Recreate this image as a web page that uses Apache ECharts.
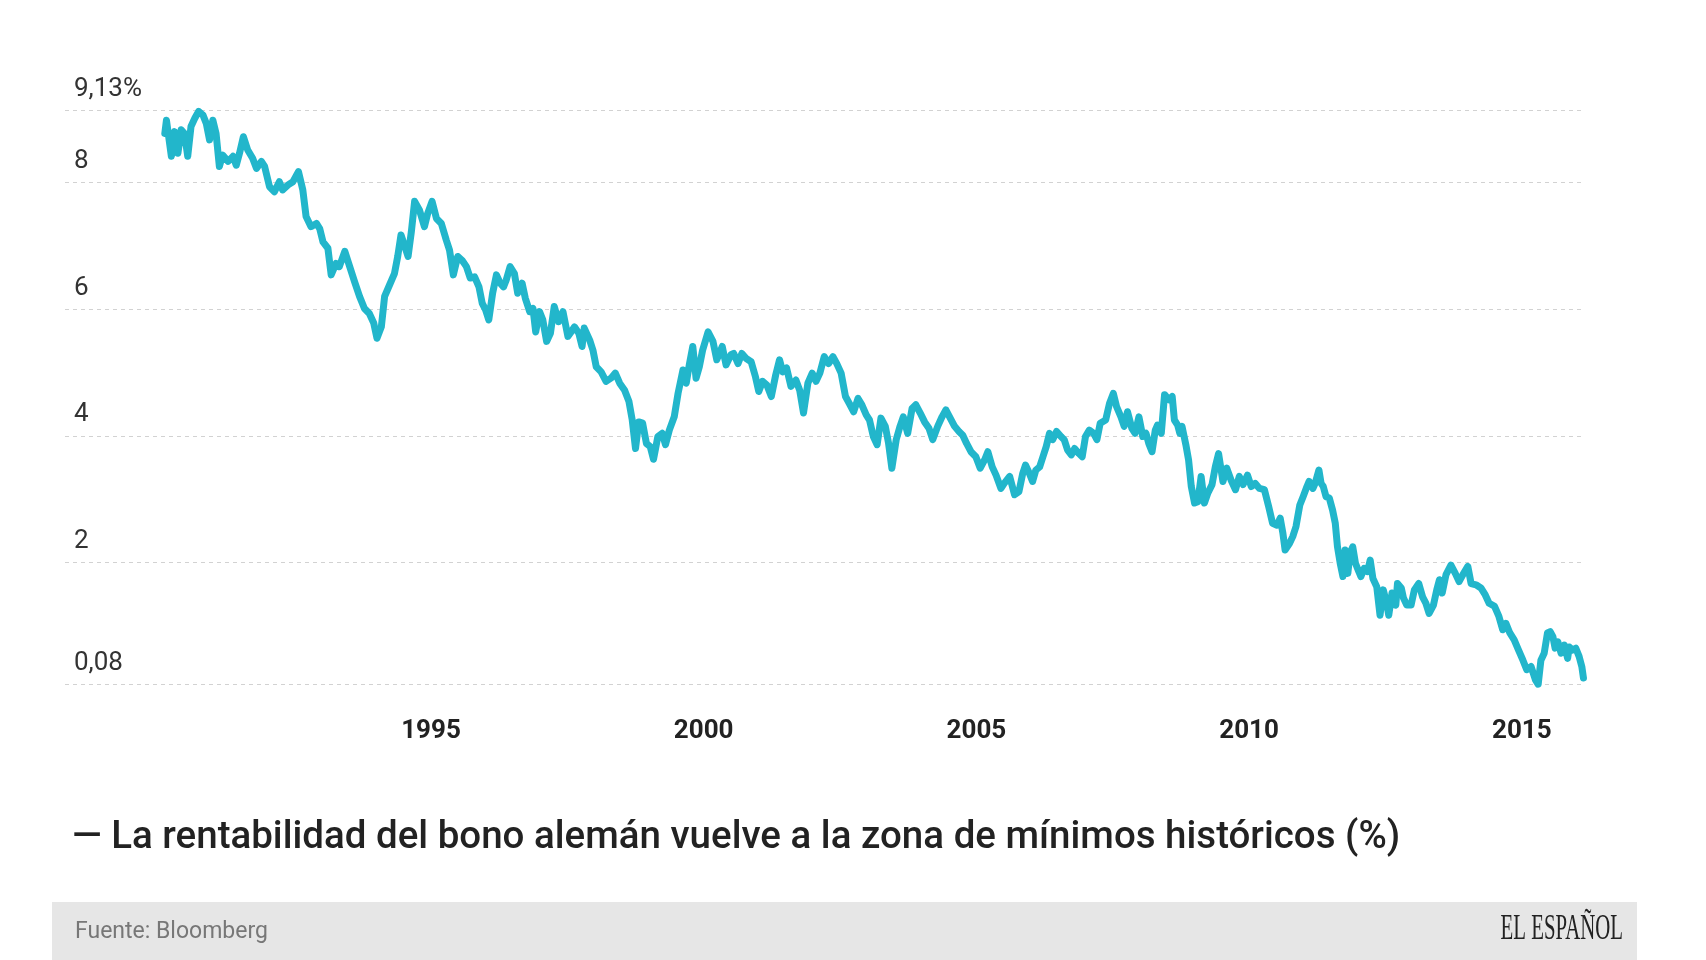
<!DOCTYPE html>
<html>
<head>
<meta charset="utf-8">
<script src="https://cdn.jsdelivr.net/npm/echarts@6/dist/echarts.min.js"></script>
<style>
html,body{margin:0;padding:0;background:#fff;}
#chart{width:1706px;height:960px;}
</style>
</head>
<body>
<div id="chart"></div>
<script>
// Decimal years of each observation
var years = [
1990.12,1990.15,1990.24,1990.30,1990.36,1990.42,1990.48,1990.54,1990.60,1990.67,1990.74,1990.82,1990.88,1990.94,
1991.00,1991.06,1991.12,1991.18,1991.28,1991.37,1991.43,1991.49,1991.56,1991.64,1991.73,1991.80,1991.89,1991.95,
1992.04,1992.13,1992.22,1992.28,1992.38,1992.47,1992.57,1992.65,1992.71,1992.80,1992.90,1992.96,
1993.02,1993.11,1993.17,1993.26,1993.32,1993.42,1993.51,1993.60,1993.69,1993.78,1993.87,1993.95,
1994.01,1994.09,1994.15,1994.24,1994.33,1994.39,1994.45,1994.52,1994.58,1994.64,1994.70,1994.79,1994.88,1994.94,
1995.02,1995.10,1995.19,1995.28,1995.34,1995.41,1995.49,1995.57,1995.65,1995.72,1995.80,1995.88,1995.94,
1996.00,1996.06,1996.13,1996.20,1996.27,1996.33,1996.38,1996.45,1996.53,1996.59,1996.67,1996.73,1996.81,1996.87,1996.92,1996.99,
1997.05,1997.12,1997.19,1997.26,1997.34,1997.42,1997.51,1997.57,1997.63,1997.71,1997.77,1997.81,1997.91,1997.97,
1998.03,1998.12,1998.21,1998.30,1998.38,1998.46,1998.55,1998.63,1998.69,1998.75,1998.81,1998.88,1998.95,
1999.02,1999.08,1999.16,1999.24,1999.30,1999.37,1999.46,1999.53,1999.62,1999.68,1999.74,1999.80,1999.86,1999.92,1999.98,
2000.08,2000.17,2000.24,2000.34,2000.41,2000.50,2000.55,2000.63,2000.70,2000.78,2000.87,2000.95,
2001.01,2001.08,2001.16,2001.24,2001.32,2001.39,2001.45,2001.52,2001.60,2001.69,2001.76,2001.83,2001.91,2001.99,
2002.06,2002.13,2002.21,2002.29,2002.37,2002.44,2002.52,2002.60,2002.67,2002.75,2002.83,2002.90,2002.98,
2003.04,2003.11,2003.18,2003.25,2003.33,2003.39,2003.45,2003.53,2003.60,2003.66,2003.74,2003.82,2003.89,2003.97,
2004.05,2004.13,2004.20,2004.29,2004.37,2004.44,2004.52,2004.60,2004.68,2004.75,2004.82,2004.90,2004.99,
2005.07,2005.15,2005.21,2005.29,2005.36,2005.45,2005.51,2005.61,2005.70,2005.78,2005.85,2005.90,2005.97,
2006.03,2006.09,2006.16,2006.22,2006.28,2006.34,2006.40,2006.47,2006.55,2006.61,2006.67,2006.74,2006.80,2006.88,2006.94,
2007.00,2007.07,2007.15,2007.21,2007.27,2007.37,2007.44,2007.51,2007.57,2007.65,2007.71,2007.77,2007.85,2007.91,2007.98,
2008.05,2008.11,2008.16,2008.22,2008.28,2008.32,2008.39,2008.45,2008.53,2008.59,2008.63,2008.69,2008.73,2008.77,2008.84,2008.89,2008.94,
2009.00,2009.06,2009.12,2009.18,2009.24,2009.32,2009.38,2009.44,2009.52,2009.59,2009.67,2009.75,2009.82,2009.89,2009.97,
2010.04,2010.11,2010.19,2010.28,2010.36,2010.43,2010.51,2010.57,2010.62,2010.66,2010.74,2010.80,2010.86,2010.93,2010.99,
2011.06,2011.10,2011.17,2011.21,2011.28,2011.32,2011.36,2011.41,2011.47,2011.53,2011.58,2011.62,2011.67,2011.72,2011.76,2011.81,2011.85,2011.90,2011.95,
2012.01,2012.05,2012.11,2012.17,2012.22,2012.27,2012.34,2012.40,2012.46,2012.52,2012.56,2012.62,2012.69,2012.72,2012.79,2012.83,2012.89,2012.97,
2013.03,2013.11,2013.18,2013.24,2013.30,2013.38,2013.44,2013.49,2013.54,2013.61,2013.70,2013.78,2013.85,2013.92,
2014.01,2014.07,2014.16,2014.25,2014.33,2014.40,2014.50,2014.58,2014.65,2014.71,2014.78,2014.86,2014.94,
2015.02,2015.09,2015.17,2015.25,2015.30,2015.35,2015.41,2015.47,2015.52,2015.57,2015.61,2015.66,2015.72,2015.78,2015.84,2015.87,2015.93,2015.99,
2016.05,2016.10,2016.13
];
// 10-year German bond yield (%)
var yields = [
8.77,8.98,8.41,8.80,8.46,8.83,8.77,8.41,8.88,9.01,9.12,9.06,8.93,8.67,
8.98,8.77,8.25,8.43,8.33,8.41,8.27,8.46,8.72,8.51,8.38,8.22,8.33,8.25,
7.93,7.85,8.01,7.88,7.96,8.01,8.17,7.88,7.46,7.30,7.35,7.27,
7.06,6.96,6.54,6.72,6.67,6.91,6.67,6.43,6.20,6.01,5.93,5.78,
5.54,5.72,6.20,6.38,6.56,6.83,7.17,6.99,6.83,7.22,7.70,7.56,7.30,7.51,
7.70,7.43,7.35,7.09,6.93,6.54,6.83,6.77,6.67,6.49,6.51,6.35,6.09,
5.99,5.83,6.25,6.54,6.41,6.35,6.46,6.67,6.56,6.25,6.41,6.17,5.96,6.01,5.64,5.96,
5.83,5.49,5.62,6.04,5.80,5.96,5.57,5.64,5.72,5.62,5.41,5.70,5.51,5.35,
5.09,5.01,4.86,4.91,4.99,4.83,4.72,4.54,4.25,3.80,4.22,4.20,3.88,
3.83,3.63,3.99,4.04,3.86,4.09,4.30,4.67,5.04,4.83,5.14,5.41,4.91,5.09,5.35,
5.64,5.49,5.20,5.41,5.12,5.28,5.30,5.14,5.30,5.22,5.17,4.93,
4.70,4.86,4.80,4.62,4.96,5.20,5.01,5.07,4.78,4.88,4.72,4.36,4.83,4.99,
4.86,4.99,5.25,5.14,5.25,5.14,4.99,4.62,4.51,4.38,4.59,4.49,4.33,
4.25,3.99,3.86,4.28,4.15,3.88,3.49,3.94,4.15,4.30,4.04,4.43,4.49,4.36,
4.22,4.12,3.94,4.15,4.30,4.41,4.28,4.15,4.07,4.01,3.88,3.75,3.67,
3.49,3.62,3.75,3.51,3.38,3.17,3.25,3.36,3.07,3.12,3.41,3.54,3.41,
3.28,3.46,3.51,3.67,3.83,4.04,3.94,4.07,3.99,3.94,3.78,3.70,3.80,3.72,3.67,
3.99,4.09,4.04,3.94,4.20,4.25,4.51,4.67,4.46,4.30,4.15,4.38,4.12,4.04,4.30,
3.99,4.04,3.88,3.75,4.09,4.17,4.04,4.65,4.57,4.62,4.25,4.17,4.04,4.15,3.86,3.62,3.20,
2.94,2.96,3.36,2.94,3.09,3.23,3.51,3.72,3.28,3.49,3.30,3.15,3.36,3.23,3.38,
3.20,3.25,3.17,3.15,2.88,2.62,2.59,2.70,2.46,2.20,2.30,2.41,2.57,2.91,3.04,
3.20,3.28,3.17,3.25,3.46,3.25,3.20,3.04,3.02,2.83,2.62,2.25,1.99,1.78,2.20,1.83,2.15,2.25,1.99,
1.86,1.78,1.91,1.86,2.04,1.75,1.62,1.17,1.57,1.36,1.17,1.52,1.33,1.67,1.60,1.44,1.33,1.33,
1.57,1.67,1.46,1.36,1.20,1.33,1.57,1.73,1.52,1.81,1.96,1.83,1.70,1.81,
1.94,1.67,1.65,1.60,1.49,1.36,1.31,1.15,0.94,1.04,0.89,0.78,0.62,
0.46,0.31,0.36,0.15,0.08,0.46,0.57,0.89,0.91,0.83,0.65,0.75,0.57,0.70,0.49,0.67,0.62,0.65,
0.52,0.36,0.18
];
var yTicks = [0.08, 2, 4, 6, 8, 9.13];
var xTicks = [1995, 2000, 2005, 2010, 2015];
var titleText = '— La rentabilidad del bono alemán vuelve a la zona de mínimos históricos (%)';
var sourceText = 'Fuente: Bloomberg';
var brandText = 'EL ESPAÑOL';

var seriesData = years.map(function (y, i) { return [y, yields[i]]; });

function yFmt(v) {
  if (Math.abs(v - 9.13) < 1e-6) return '9,13%';
  if (Math.abs(v - 0.08) < 1e-6) return '0,08';
  return String(v);
}

var chart = echarts.init(document.getElementById('chart'), null, {renderer: 'canvas'});
chart.setOption({
  animation: false,
  backgroundColor: '#ffffff',
  textStyle: {fontFamily: 'Roboto'},
  grid: {left: 65, top: 110.7, width: 1519, height: 573.6, containLabel: false},
  xAxis: {
    type: 'value', min: 1988.29, max: 2016.14,
    axisLine: {show: false}, axisTick: {show: false}, splitLine: {show: false},
    axisLabel: {
      customValues: xTicks,
      formatter: function (v) { return String(Math.round(v)); },
      fontSize: 26, fontWeight: 'bold', color: '#222', fontFamily: 'Roboto', margin: 34
    }
  },
  yAxis: {
    type: 'value', min: 0.08, max: 9.13,
    axisLine: {show: false}, axisTick: {show: false}, splitLine: {show: false},
    axisLabel: {
      customValues: yTicks,
      inside: true,
      formatter: yFmt,
      fontSize: 26, color: '#333', fontFamily: 'Roboto',
      verticalAlign: 'bottom', margin: 9, padding: [0, 0, 8, 0]
    }
  },
  series: [{
    type: 'line',
    data: seriesData,
    showSymbol: false,
    symbol: 'none',
    z: 3,
    lineStyle: {color: '#22b6cb', width: 7, join: 'round', cap: 'round'},
    emphasis: {disabled: true},
    markLine: {
      z: 1,
      silent: true,
      symbol: ['none', 'none'],
      label: {show: false},
      lineStyle: {type: [4, 4], color: '#d2d2d2', width: 1},
      emphasis: {disabled: true},
      data: yTicks.map(function (v) { return {yAxis: v}; })
    }
  }],
  graphic: [
    {
      type: 'text', x: 72, y: 838,
      style: {text: titleText, font: '500 38.5px Roboto', fill: '#222', verticalAlign: 'middle', align: 'left'}
    },
    {
      type: 'rect', shape: {x: 52, y: 902, width: 1585, height: 58},
      style: {fill: '#e6e6e6'}
    },
    {
      type: 'text', x: 75, y: 932,
      style: {text: sourceText, font: '23px Roboto', fill: '#777', verticalAlign: 'middle', align: 'left'}
    },
    {
      type: 'text', x: 1623, y: 930, scaleX: 0.595,
      style: {text: brandText, font: '35px "Liberation Serif"', fill: '#222', verticalAlign: 'middle', align: 'right'}
    }
  ]
});
</script>
</body>
</html>
